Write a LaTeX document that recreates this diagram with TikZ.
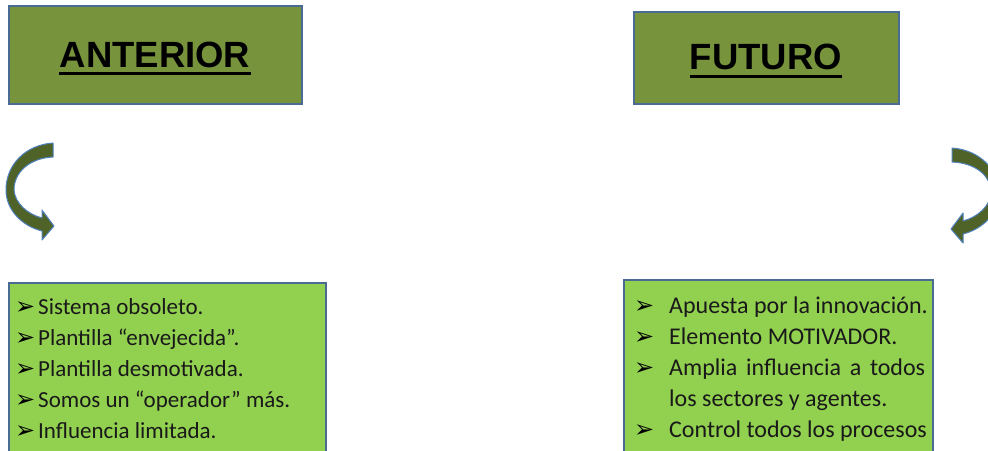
\documentclass[tikz,border=0pt]{standalone}
\usepackage{fontspec}
\setmainfont{Carlito}
\newfontfamily\headfont{Liberation Sans}
\newfontfamily\bulletfont{DejaVu Sans}
\definecolor{headfill}{HTML}{77933C}
\definecolor{boxborder}{HTML}{4A6C94}
\definecolor{listfill}{HTML}{92D050}
\definecolor{arrowfill}{HTML}{4F6228}
\definecolor{arrowline}{HTML}{4F81BD}
\newcommand{\bul}{{\bulletfont\fontsize{24}{24}\selectfont ➢}}
\begin{document}
\begin{tikzpicture}[x=1pt,y=-1pt,
  headbox/.style={draw=boxborder, line width=1.5pt, fill=headfill, anchor=north west, inner sep=0pt},
  listbox/.style={draw=boxborder, line width=1.5pt, fill=listfill, anchor=north west, inner sep=0pt},
  headtext/.style={font=\headfont\bfseries\fontsize{36.5}{40}\selectfont, inner sep=0pt, anchor=base},
  ulinestyle/.style={line width=3pt},
  lline/.style={font=\fontsize{23}{24}\selectfont, inner sep=0pt, anchor=base west, text=black!90},
  rline/.style={font=\fontsize{24}{26}\selectfont, inner sep=0pt, anchor=base west, text=black!90},
  bulnode/.style={inner sep=0pt, anchor=base west},
  curarrow/.style={fill=arrowfill, draw=arrowline, line width=1pt, line join=round}]
\useasboundingbox (0,0) rectangle (988,450);
\clip (0,0) rectangle (988,450);
\fill[white] (0,0) rectangle (988,450);

% header boxes
\node[headbox, minimum width=293pt, minimum height=98pt] (antbox) at (8,5) {};
\node[headbox, minimum width=265pt, minimum height=92pt] (futbox) at (633,11) {};
\node[headtext] (anttxt) at (155,67) {ANTERIOR};
\node[headtext] (futtxt) at (766,69) {FUTURO};
\draw[ulinestyle] ([yshift=-6pt]anttxt.base west) -- ([yshift=-6pt]anttxt.base east);
\draw[ulinestyle] ([yshift=-7pt]futtxt.base west) -- ([yshift=-7pt]futtxt.base east);

% curved arrows
\filldraw[curarrow] (53,143) .. controls (25,145) and (6,165) .. (6,190)
  .. controls (6,210) and (22,226) .. (42,231) -- (42,240) -- (54,226) -- (42,210) -- (42,218)
  .. controls (27,214) and (15,203) .. (14,190) .. controls (14,172) and (30,158) .. (53,157) -- cycle;
\begin{scope}[shift={(1005,3)}, xscale=-1]
\filldraw[curarrow] (53,145) .. controls (25,147) and (6,167) .. (6,190)
  .. controls (6,210) and (22,226) .. (42,231) -- (42,240) -- (54,226) -- (42,210) -- (42,218)
  .. controls (27,214) and (15,203) .. (14,190) .. controls (14,172) and (30,160) .. (53,159) -- cycle;
\end{scope}

% list boxes
\node[listbox, minimum width=317pt, minimum height=180pt] (lbox) at (8,282) {};
\node[listbox, minimum width=309pt, minimum height=183pt] (rbox) at (623,279) {};

\node[bulnode] (lb1) at (15,314) {\bul};
\node[bulnode] (lb2) at (15,345) {\bul};
\node[bulnode] (lb3) at (15,376) {\bul};
\node[bulnode] (lb4) at (15,407) {\bul};
\node[bulnode] (lb5) at (15,438) {\bul};
\node[lline] (l1) at (38,314) {Sistema obsoleto.};
\node[lline] (l2) at (38,345) {Plantilla “envejecida”.};
\node[lline] (l3) at (38,376) {Plantilla desmotivada.};
\node[lline] (l4) at (38,407) {Somos un “operador” más.};
\node[lline] (l5) at (38,438) {Influencia limitada.};

\node[bulnode] (b1) at (634,313) {\bul};
\node[bulnode] (b2) at (634,344) {\bul};
\node[bulnode] (b3) at (634,375) {\bul};
\node[bulnode] (b5) at (634,437) {\bul};
\node[rline] (r1) at (669,313) {Apuesta por la innovación.};
\node[rline] (r2) at (669,344) {Elemento MOTIVADOR.};
\node[rline] (r3) at (669,375) {\makebox[256pt][s]{Amplia influencia a todos}};
\node[rline] (r4) at (669,406) {los sectores y agentes.};
\node[rline] (r5) at (669,437) {Control todos los procesos};
\end{tikzpicture}
\end{document}
